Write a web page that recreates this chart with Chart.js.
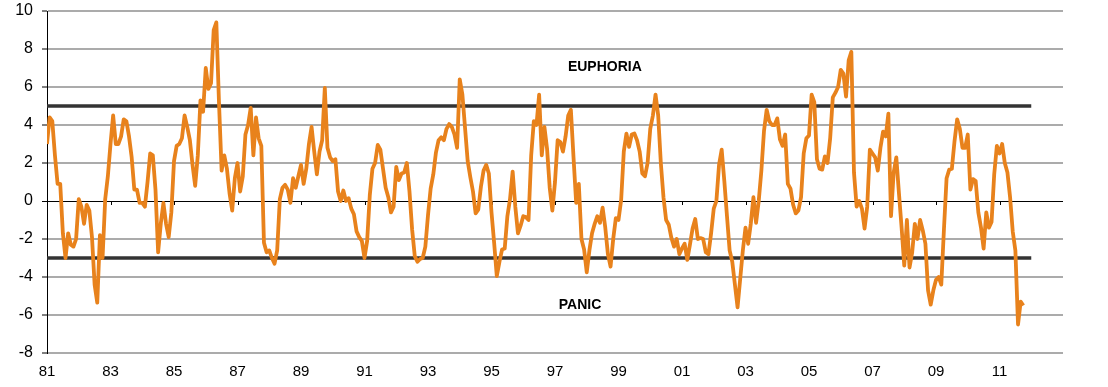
<!DOCTYPE html>
<html>
<head>
<meta charset="utf-8">
<title>Euphoria / Panic</title>
<script src="https://cdn.jsdelivr.net/npm/chart.js@4/dist/chart.umd.min.js"></script>
<style>
    html, body { margin: 0; padding: 0; background: #fff; }
</style>
</head>
<body>
<canvas id="sentimentChart" width="1108" height="387"></canvas>
<script>
// Monthly readings, one array per five-year block (Jan of first year onward)
const START_YEAR = 1981;
const values1981to1985 = [
    3.0, 4.4, 4.2, 2.4, 0.9, 0.9, -1.7, -3.0, -1.7, -2.3, -2.4, -2.0,
    0.1, -0.3, -1.2, -0.2, -0.5, -1.9, -4.4, -5.35, -1.8, -3.0, 0.1, 1.3,
    3.0, 4.5, 3.0, 3.0, 3.4, 4.3, 4.2, 3.4, 2.3, 0.6, 0.6, -0.1,
    -0.1, -0.3, 1.0, 2.5, 2.4, 0.6, -2.7, -1.2, -0.1, -1.2, -1.9, -0.6,
    2.1, 2.9, 3.0, 3.3, 4.5, 3.9, 3.2, 1.9, 0.8, 2.4, 5.3, 4.7
];
const values1986to1990 = [
    7.0, 5.9, 6.2, 9.0, 9.4, 5.2, 1.6, 2.4, 1.7, 0.4, -0.5, 1.2,
    2.0, 0.5, 1.3, 3.5, 4.0, 4.9, 2.4, 4.4, 3.3, 2.9, -2.2, -2.7,
    -2.6, -3.0, -3.3, -2.6, 0.1, 0.7, 0.85, 0.6, -0.1, 1.2, 0.7, 1.3,
    1.9, 0.9, 1.7, 3.0, 3.9, 2.6, 1.4, 2.6, 3.2, 5.95, 2.8, 2.3,
    2.1, 2.2, 0.5, 0.0, 0.55, 0.0, 0.15, -0.4, -0.7, -1.6, -1.9, -2.1
];
const values1991to1995 = [
    -3.0, -2.1, 0.3, 1.7, 2.0, 2.95, 2.7, 1.7, 0.7, 0.2, -0.6, -0.3,
    1.8, 1.1, 1.45, 1.5, 2.0, 0.5, -1.5, -2.9, -3.2, -3.05, -3.0, -2.4,
    -0.75, 0.65, 1.4, 2.55, 3.2, 3.35, 3.2, 3.8, 4.05, 3.9, 3.5, 2.8,
    6.4, 5.6, 3.85, 2.1, 1.25, 0.5, -0.65, -0.45, 0.75, 1.6, 1.9, 1.45,
    -0.6, -2.2, -3.95, -3.2, -2.55, -2.5, -0.8, 0.1, 1.55, -0.3, -1.7, -1.3
];
const values1996to2000 = [
    -0.8, -0.85, -1.0, 2.4, 4.2, 4.0, 5.6, 2.4, 3.9, 2.75, 0.7, -0.5,
    1.0, 3.2, 3.1, 2.6, 3.4, 4.5, 4.8, 2.3, -0.1, 0.9, -2.0, -2.55,
    -3.75, -2.6, -1.7, -1.2, -0.8, -1.15, -0.35, -1.4, -2.8, -3.45, -2.0, -0.9,
    -1.0, 0.05, 2.6, 3.55, 2.85, 3.5, 3.55, 3.2, 2.6, 1.45, 1.3, 2.0,
    3.8, 4.5, 5.6, 4.5, 2.0, 0.2, -1.0, -1.25, -1.95, -2.4, -2.0, -2.8
];
const values2001to2005 = [
    -2.5, -2.25, -3.1, -2.3, -1.45, -0.95, -2.0, -1.95, -2.0, -2.7, -2.8, -1.7,
    -0.4, 0.0, 1.9, 2.7, 1.05, -0.8, -2.6, -3.2, -4.4, -5.6, -4.1, -2.6,
    -1.4, -2.25, -1.2, 0.2, -1.15, 0.0, 1.6, 3.7, 4.8, 4.2, 4.0, 4.0,
    4.35, 3.25, 2.9, 3.5, 0.9, 0.65, -0.2, -0.65, -0.5, 0.2, 2.5, 3.3,
    3.45, 5.6, 5.2, 2.2, 1.7, 1.65, 2.35, 2.0, 3.3, 5.45, 5.7, 6.0
];
const values2006to2011 = [
    6.9, 6.7, 5.5, 7.4, 7.85, 1.5, -0.3, 0.0, -0.4, -1.45, -0.3, 2.7,
    2.5, 2.3, 1.6, 2.8, 3.65, 3.4, 4.6, -0.8, 1.5, 2.3, 0.4, -1.4,
    -3.4, -1.0, -3.5, -2.7, -1.2, -2.0, -1.0, -1.55, -2.25, -4.7, -5.45, -4.7,
    -4.15, -4.0, -4.4, -1.5, 1.2, 1.65, 1.7, 3.15, 4.3, 3.8, 2.8, 2.8,
    3.5, 0.6, 1.15, 1.05, -0.6, -1.4, -2.5, -0.6, -1.4, -1.1, 1.4, 2.9,
    2.5, 3.0, 2.0, 1.5, 0.2, -1.6, -2.6, -6.5, -5.3, -5.5
];

// Threshold bands and their captions
const euphoriaLevel = 5;
const panicLevel = -3;
const thresholdEnd = 2012;
const zoneLabels = [
    { text: 'EUPHORIA', year: 1998.57, value: 7.05 },
    { text: 'PANIC', year: 1997.79, value: -5.47 }
];

const AXIS_FONT = '"Liberation Sans", Arial, sans-serif';

const monthly = [].concat(values1981to1985, values1986to1990, values1991to1995,
    values1996to2000, values2001to2005, values2006to2011);
const sentimentPoints = monthly.map((v, i) => ({ x: START_YEAR + i / 12, y: v }));

const overlayPlugin = {
    id: 'overlay',
    beforeDatasetsDraw(chart) {
        // small tick marks where the category axis crosses zero
        const { ctx, scales: { x, y } } = chart;
        const y0 = Math.round(y.getPixelForValue(0));
        ctx.save();
        ctx.strokeStyle = '#000';
        ctx.lineWidth = 1;
        x.ticks.forEach(t => {
            if (t.value > 2011) return;
            const px = Math.round(x.getPixelForValue(t.value)) + 0.5;
            ctx.beginPath();
            ctx.moveTo(px, y0);
            ctx.lineTo(px, y0 + 4);
            ctx.stroke();
        });
        ctx.restore();
    },
    afterDatasetsDraw(chart) {
        const { ctx, scales: { x, y } } = chart;
        ctx.save();
        ctx.font = 'bold 14px ' + AXIS_FONT;
        ctx.fillStyle = '#000';
        ctx.textAlign = 'center';
        ctx.textBaseline = 'middle';
        zoneLabels.forEach(l => {
            ctx.fillText(l.text, x.getPixelForValue(l.year), y.getPixelForValue(l.value));
        });
        ctx.restore();
    }
};

new Chart(document.getElementById('sentimentChart'), {
    type: 'line',
    data: {
        datasets: [
            {
                label: 'Sentiment',
                data: sentimentPoints,
                borderColor: '#e8821c',
                borderWidth: 3.8,
                borderJoinStyle: 'round',
                pointRadius: 0,
                tension: 0
            },
            {
                label: 'Euphoria',
                data: [{ x: START_YEAR, y: euphoriaLevel }, { x: thresholdEnd, y: euphoriaLevel }],
                borderColor: '#333333',
                borderWidth: 3.5,
                pointRadius: 0
            },
            {
                label: 'Panic',
                data: [{ x: START_YEAR, y: panicLevel }, { x: thresholdEnd, y: panicLevel }],
                borderColor: '#333333',
                borderWidth: 3.5,
                pointRadius: 0
            }
        ]
    },
    options: {
        responsive: false,
        animation: false,
        layout: { padding: { top: 11, right: 45, left: 0, bottom: 0 } },
        plugins: {
            legend: { display: false },
            tooltip: { enabled: false }
        },
        scales: {
            x: {
                type: 'linear',
                min: 1981,
                max: 2013,
                ticks: {
                    stepSize: 2,
                    autoSkip: false,
                    maxRotation: 0,
                    color: '#000',
                    padding: 10,
                    font: { family: AXIS_FONT, size: 15 },
                    callback: v => (v > 2011 ? '' : String(v).slice(2))
                },
                grid: { display: false, drawTicks: false },
                border: { display: false },
                afterFit: s => { s.height = 34; }
            },
            y: {
                min: -8,
                max: 10,
                ticks: {
                    stepSize: 2,
                    color: '#000',
                    padding: 9,
                    font: { family: AXIS_FONT, size: 16 }
                },
                grid: {
                    color: c => (c.tick && c.tick.value === 0 ? '#000000' : '#ababab'),
                    lineWidth: c => (c.tick && c.tick.value === 0 ? 1 : 2),
                    tickColor: '#000',
                    tickLength: 5,
                    tickWidth: 1
                },
                border: { color: '#000', width: 1 },
                afterFit: s => {
                    s.width = 47;
                    s.paddingTop = 0;
                    s.paddingBottom = 0;
                }
            }
        }
    },
    plugins: [overlayPlugin]
});
</script>
</body>
</html>
